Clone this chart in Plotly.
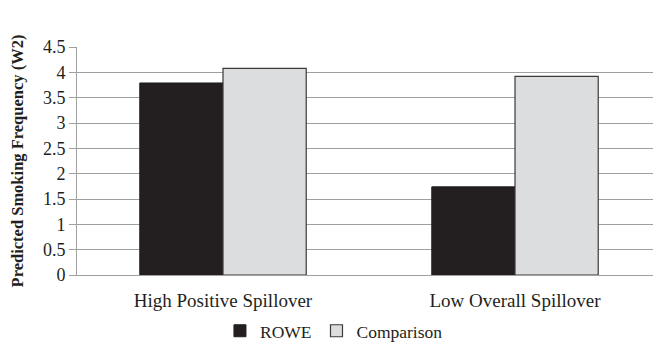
import plotly.graph_objects as go

categories = ["High Positive Spillover", "Low Overall Spillover"]
rowe = [3.79, 1.74]
comparison = [4.08, 3.92]
y_ticks = [0, 0.5, 1, 1.5, 2, 2.5, 3, 3.5, 4, 4.5]
y_tick_labels = ["0", "0.5", "1", "1.5", "2", "2.5", "3", "3.5", "4", "4.5"]
y_title = "Predicted Smoking Frequency (W2)"

font_family = "Liberation Serif, Times New Roman, serif"

fig = go.Figure()
fig.add_trace(go.Bar(
    x=categories, y=rowe, name="ROWE",
    marker=dict(color="#231f20", line=dict(color="#231f20", width=1)),
))
fig.add_trace(go.Bar(
    x=categories, y=comparison, name="Comparison",
    marker=dict(color="#dcdddf", line=dict(color="#3a3a3a", width=1.2)),
))

# page body has an 8px margin, so the figure is drawn 8px smaller
fig.update_layout(
    width=653, height=337,
    margin=dict(l=69, r=0, t=39, b=70, autoexpand=False),
    paper_bgcolor="white", plot_bgcolor="white",
    barmode="group", bargap=0.43, bargroupgap=0,
    font=dict(family=font_family, size=18, color="#231f20"),
    showlegend=True,
    legend=dict(orientation="h", xref="paper", x=0.44, xanchor="center",
                yref="paper", y=-0.245, yanchor="middle",
                font=dict(size=17.5), itemwidth=30, traceorder="normal"),
)
fig.add_annotation(
    text="<b>" + y_title + "</b>", textangle=-90,
    xref="paper", yref="paper", x=-0.102, y=0.5,
    xanchor="center", yanchor="middle", showarrow=False,
    font=dict(size=16.5, family=font_family, color="#231f20"),
)
fig.update_xaxes(
    showline=True, linecolor="#a0a0a0", linewidth=1,
    ticks="outside", ticklen=8, tickcolor="rgba(0,0,0,0)",
    tickfont=dict(size=19), tickangle=0,
)
fig.update_yaxes(
    range=[0, 4.5], tickvals=y_ticks, ticktext=y_tick_labels,
    showgrid=True, gridcolor="#a0a0a0", gridwidth=1,
    showline=True, linecolor="#a0a0a0", linewidth=1,
    ticks="outside", ticklen=7, tickcolor="#a0a0a0",
    tickfont=dict(size=18),
    zeroline=False,
)

fig.write_html("out.html")
